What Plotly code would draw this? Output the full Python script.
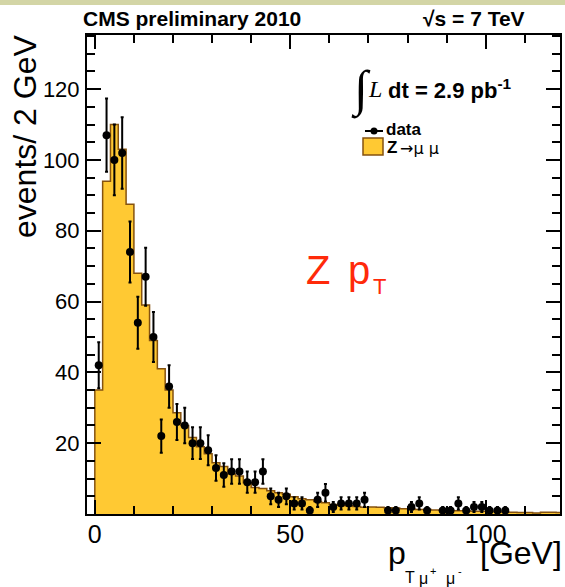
import numpy as np
import plotly.graph_objects as go

# ---------------- data ----------------
bin_width = 2
bin_lo = list(range(0, 120, 2))          # lower edges of the 2 GeV bins
mc_z_mumu = [35, 94, 110, 103, 87.5, 68, 59, 49, 41, 35,
             28.6, 25, 21.6, 19, 17, 14.5, 13.4, 11.3, 10.7, 8.8,
             7.5, 7.2, 6.6, 6.0, 5.6, 4.9, 4.3, 4.0, 3.5, 3.2,
             2.7, 2.5, 2.3, 2.1, 1.9, 2.0, 1.9, 1.8, 1.7, 1.5,
             1.4, 1.3, 1.3, 1.1, 1.0, 1.0, 0.9, 0.9, 0.8, 0.8,
             0.7, 0.7, 0.6, 0.5, 0.4, 0.4, 0.3, 0.5, 0.5, 0.4]
data_counts = [42, 107, 100, 102, 74, 54, 67, 50, 22, 36,
               26, 25, 20, 20, 18, 13, 11, 12, 12, 9,
               9, 12, 5, 4, 5, 3, 3, 1, 4, 6,
               2, 3, 3, 3, 4, 0, 0, 1, 1, 0,
               2, 3, 1, 0, 1, 1, 3, 1, 2, 2,
               1, 1, 1, 0, 0, 0, 0, 0, 0, 0]
x_ticks = [0, 50, 100]
y_ticks = [20, 40, 60, 80, 100, 120]

# ---------------- geometry ----------------
FW, FH = 565, 587
L, R, T, B = 87, 5, 35, 73
W, H = FW - L - R, FH - T - B

def px(x):
    return (x - L) / W

def py(y):
    return 1 - (y - T) / H

# step histogram outline
x_step = [bin_lo[0]] + bin_lo + [bin_lo[-1] + bin_width]
y_step = [0] + mc_z_mumu + [mc_z_mumu[-1]]

centers = [b + bin_width / 2 for b in bin_lo]
dx = [c for c, n in zip(centers, data_counts) if n > 0]
dy = [n for n in data_counts if n > 0]
derr = list(np.sqrt(dy))

fig = go.Figure()
fig.add_trace(go.Scatter(
    x=x_step, y=y_step, mode="lines", line_shape="hv",
    line=dict(color="#85520f", width=1.5),
    fill="tozeroy", fillcolor="#ffc933", showlegend=False, hoverinfo="skip"))
fig.add_trace(go.Scatter(
    x=dx, y=dy, mode="markers",
    marker=dict(color="black", size=8),
    error_y=dict(type="data", array=derr, color="black", thickness=2, width=1.5),
    showlegend=False))

font_main = "Liberation Sans, Arial, Helvetica, sans-serif"
axis_common = dict(showline=True, linecolor="black", linewidth=2, mirror="allticks",
                   ticks="inside", tickcolor="black", tickwidth=1.5, ticklen=14,
                   showgrid=False, zeroline=False)

fig.update_layout(
    width=FW, height=FH,
    margin=dict(l=L, r=R, t=T, b=B, autoexpand=False),
    paper_bgcolor="white", plot_bgcolor="white",
    font=dict(family=font_main, color="black"),
    xaxis=dict(range=[-2, 119], tickvals=x_ticks, ticktext=[str(v) for v in x_ticks],
               tickfont=dict(size=25), ticklabelstandoff=-3,
               minor=dict(dtick=10, tick0=0, ticks="inside", ticklen=8,
                          tickcolor="black", tickwidth=1.5),
               **axis_common),
    yaxis=dict(range=[0, 135.3], tickvals=y_ticks, ticktext=[str(v) for v in y_ticks],
               tickfont=dict(size=22), ticklabelstandoff=1,
               minor=dict(dtick=5, tick0=0, ticks="inside", ticklen=8,
                          tickcolor="black", tickwidth=1.5),
               **axis_common),
)

ann = []

def text(x, y, s, size, xanchor="left", yanchor="middle", color="black",
         family=font_main, angle=0):
    ann.append(dict(x=px(x), y=py(y), xref="paper", yref="paper", text=s,
                    showarrow=False, xanchor=xanchor, yanchor=yanchor,
                    textangle=angle, font=dict(size=size, color=color, family=family)))

# header
text(81, 18, "<b>CMS preliminary 2010</b>", 21)
text(421, 18, "<b>√s = 7 TeV</b>", 21)
# axis titles
text(25, 137, "events/ 2 GeV", 32, xanchor="center", angle=-90)
text(386, 553, "p", 32)
text(403, 577, "T", 16)
text(417, 578, "μ", 16)
text(428, 571, "+", 11)
text(444, 578, "μ", 16)
text(456, 571, "-", 11)
text(478, 553, "[GeV]", 32)
# red label
text(304, 270, "Z", 40, color="#ff2a0a")
text(346, 270, "p", 40, color="#ff2a0a")
text(371, 286, "T", 22, color="#ff2a0a")
# luminosity
text(361, 90, "∫", 50, xanchor="center", family="Liberation Serif, serif")
text(366, 89, "<i>L</i>", 24, family="Liberation Serif, serif")
text(386, 89, "<b>dt = 2.9 pb<sup>-1</sup></b>", 22)
# legend texts
text(384, 129, "<b>data</b>", 17)
text(385, 147, "<b>Z</b>", 17)
text(398, 148, "→μ μ", 16, family="DejaVu Sans, sans-serif")
fig.update_layout(annotations=ann)

shapes = [
    # slide band at top
    dict(type="rect", xref="paper", yref="paper", x0=px(0), x1=px(FW),
         y0=py(5), y1=py(0), fillcolor="#d3d5a6", line=dict(width=0), layer="below"),
    # legend: data
    dict(type="line", xref="paper", yref="paper", x0=px(365), x1=px(383),
         y0=py(131), y1=py(131), line=dict(color="black", width=2)),
    dict(type="circle", xref="paper", yref="paper", x0=px(370.5), x1=px(377.5),
         y0=py(134.5), y1=py(127.5), fillcolor="black", line=dict(width=0)),
    # legend: Z->mumu box
    dict(type="rect", xref="paper", yref="paper", x0=px(363), x1=px(383),
         y0=py(155), y1=py(138), fillcolor="#ffc933", line=dict(color="#85520f", width=1.5)),
]
fig.update_layout(shapes=shapes)

fig.write_html("out.html", config={"displayModeBar": False},
               post_script="document.body.style.margin='0';document.body.style.padding='0';"
                           "document.body.style.overflow='hidden';")
